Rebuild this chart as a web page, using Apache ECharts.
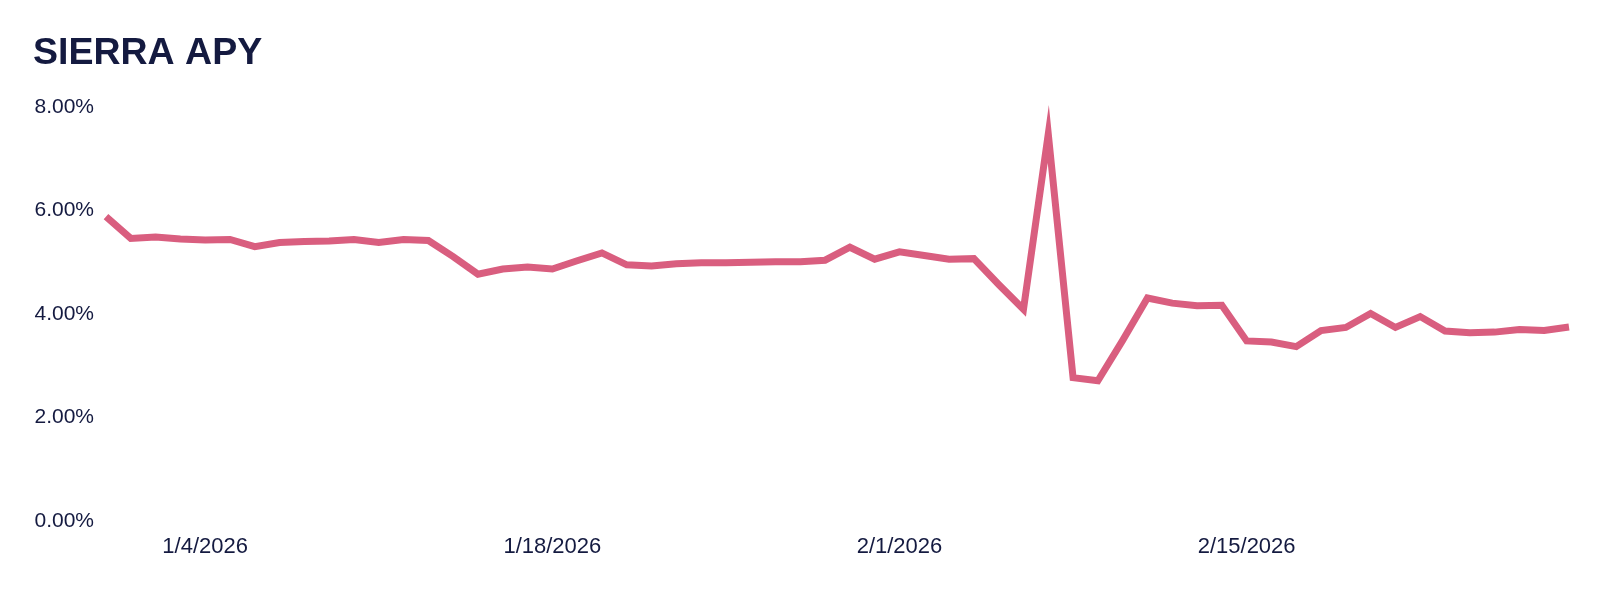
<!DOCTYPE html>
<html>
<head>
<meta charset="utf-8">
<script src="https://cdn.jsdelivr.net/npm/echarts@6/dist/echarts.min.js"></script>
<style>
html,body{margin:0;padding:0;background:#fff;}
#chart{width:1600px;height:589px;}
</style>
</head>
<body>
<div id="chart"></div>
<script>
const titleText = "SIERRA APY";
const dates = [
  "12/31/2025",
  "1/1/2026","1/2/2026","1/3/2026","1/4/2026","1/5/2026","1/6/2026","1/7/2026","1/8/2026","1/9/2026","1/10/2026",
  "1/11/2026","1/12/2026","1/13/2026","1/14/2026","1/15/2026","1/16/2026","1/17/2026","1/18/2026","1/19/2026","1/20/2026",
  "1/21/2026","1/22/2026","1/23/2026","1/24/2026","1/25/2026","1/26/2026","1/27/2026","1/28/2026","1/29/2026","1/30/2026",
  "1/31/2026",
  "2/1/2026","2/2/2026","2/3/2026","2/4/2026","2/5/2026","2/6/2026","2/7/2026","2/8/2026","2/9/2026","2/10/2026",
  "2/11/2026","2/12/2026","2/13/2026","2/14/2026","2/15/2026","2/16/2026","2/17/2026","2/18/2026","2/19/2026","2/20/2026",
  "2/21/2026","2/22/2026","2/23/2026","2/24/2026","2/25/2026","2/26/2026","2/27/2026","2/28/2026"
];
const apy = [
  5.88,
  5.46,5.49,5.45,5.43,5.44,5.30,5.38,5.40,5.41,5.44,
  5.38,5.44,5.42,5.11,4.77,4.87,4.91,4.87,5.03,5.18,
  4.95,4.93,4.97,4.99,4.99,5.00,5.01,5.01,5.04,5.29,
  5.06,
  5.20,5.13,5.06,5.07,4.57,4.09,7.48,2.77,2.71,3.49,
  4.31,4.21,4.16,4.17,3.48,3.46,3.37,3.68,3.74,4.01,
  3.74,3.95,3.67,3.64,3.65,3.70,3.68,3.75
];
const shownDates = ["1/4/2026","1/18/2026","2/1/2026","2/15/2026"];
const yTicks = [0, 2, 4, 6, 8];

const chart = echarts.init(document.getElementById('chart'), null, {renderer:'canvas'});
chart.setOption({
  backgroundColor: '#ffffff',
  animation: false,
  title: {
    text: titleText,
    left: 28, top: 30,
    textStyle: {fontFamily: 'Liberation Sans', fontWeight: 'bold', fontSize: 37.5, color: '#141a40'}
  },
  grid: {left: 106, right: 31, top: 107, bottom: 68, containLabel: false},
  xAxis: {
    type: 'category',
    data: dates,
    boundaryGap: false,
    axisLine: {show: false},
    axisTick: {show: false},
    splitLine: {show: false},
    axisLabel: {
      interval: (i, v) => shownDates.indexOf(v) >= 0,
      margin: 15,
      fontFamily: 'Liberation Sans',
      fontSize: 22,
      color: '#141a40'
    }
  },
  yAxis: {
    type: 'value',
    min: yTicks[0], max: yTicks[yTicks.length-1], interval: 2,
    axisLine: {show: false},
    axisTick: {show: false},
    splitLine: {show: false},
    axisLabel: {
      margin: 12,
      fontFamily: 'Liberation Sans',
      fontSize: 21,
      color: '#141a40',
      formatter: v => v.toFixed(2) + '%'
    }
  },
  series: [{
    type: 'line',
    data: apy,
    symbol: 'none',
    lineStyle: {color: '#d95e7f', width: 7, join: 'miter', cap: 'butt'}
  }]
});
</script>
</body>
</html>
